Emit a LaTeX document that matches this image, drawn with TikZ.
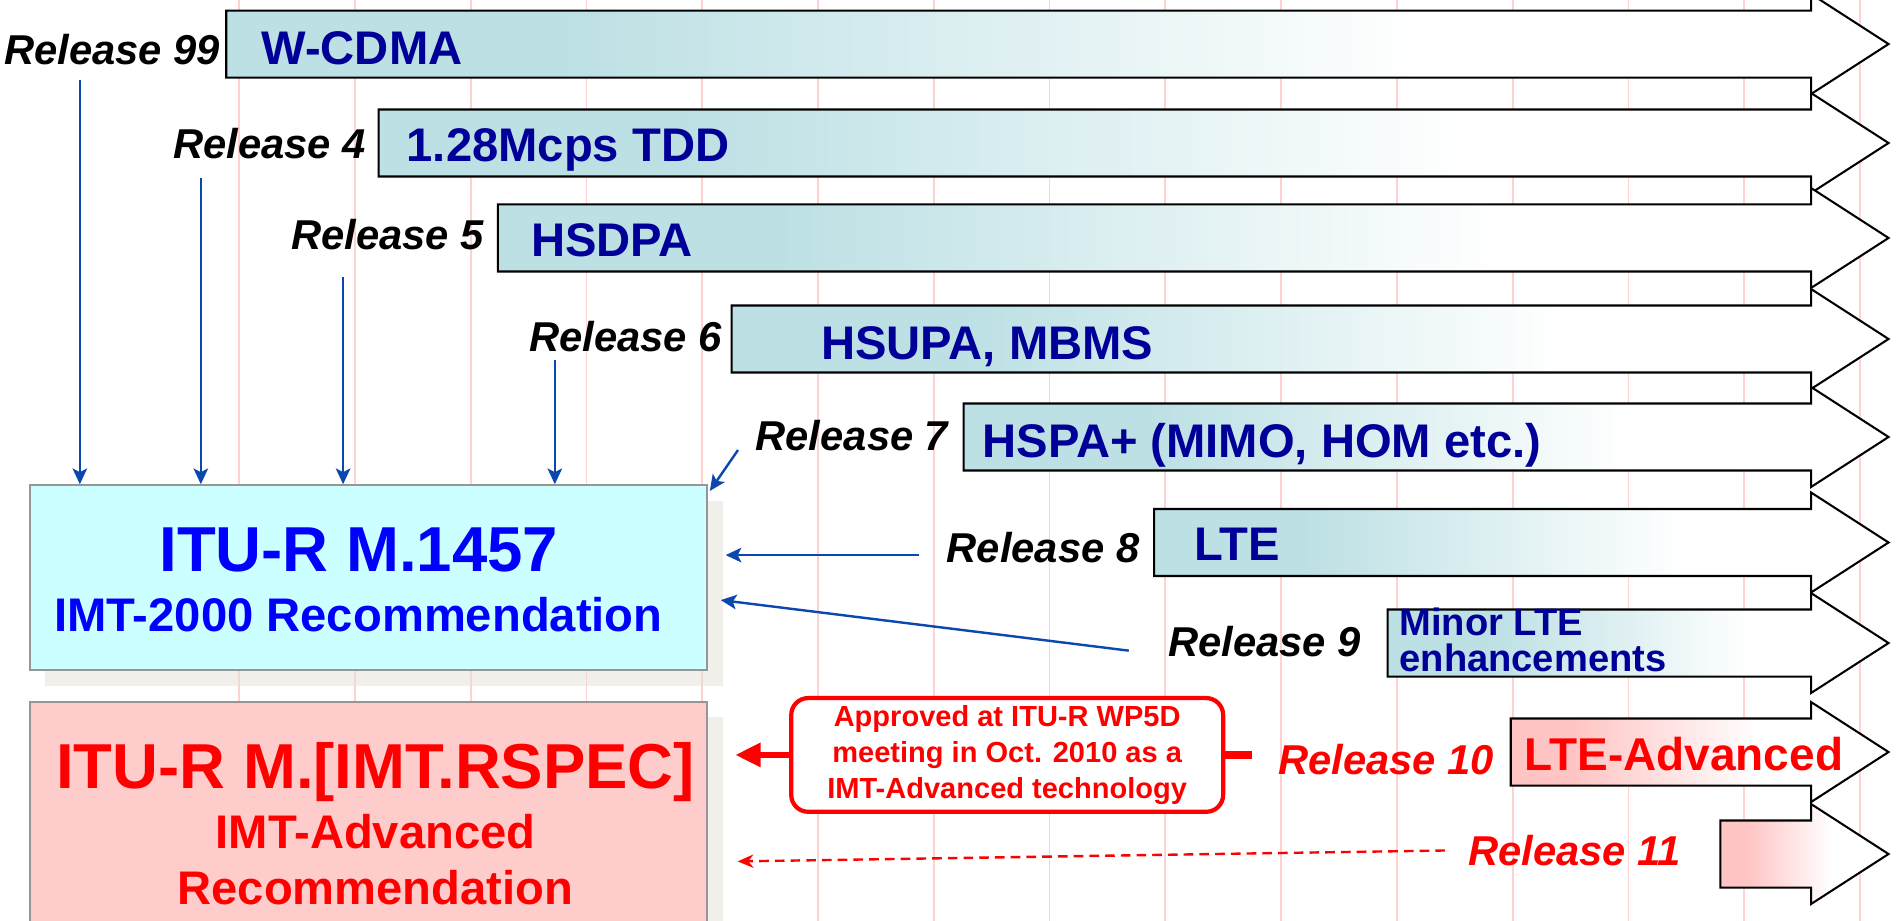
\documentclass[tikz,border=0pt]{standalone}
\usepackage{fontspec}
\setmainfont{Liberation Sans}
\usepackage{xcolor}
\usepackage{tikz}
\usetikzlibrary{arrows.meta,shadows}

\definecolor{relteal}{RGB}{188,224,228}
\definecolor{relpink}{RGB}{255,196,196}
\definecolor{featnavy}{RGB}{0,0,153}
\definecolor{connblue}{RGB}{10,72,176}
\definecolor{itucyan}{RGB}{204,255,255}
\definecolor{rspecpink}{RGB}{255,204,204}
\definecolor{gridpink}{RGB}{255,210,210}
\definecolor{recgray}{RGB}{150,150,150}
\definecolor{shadowbeige}{RGB}{228,224,212}

\pgfdeclarehorizontalshading{tealfade}{100bp}{color(0bp)=(relteal); color(35bp)=(relteal); color(61bp)=(white); color(100bp)=(white)}
\pgfdeclarehorizontalshading{pinkfade}{100bp}{color(0bp)=(relpink); color(33bp)=(relpink); color(58bp)=(white); color(100bp)=(white)}

\begin{document}
\begin{tikzpicture}[x=1pt,y=-1pt,
  rel arrow/.style={draw=black,line width=1.7pt},
  grid line/.style={gridpink,line width=1.5pt},
  rel label/.style={anchor=base east,inner sep=0pt,font=\fontsize{34.5}{40}\selectfont\bfseries\itshape},
  feat label/.style={anchor=base west,inner sep=0pt,text=featnavy,font=\fontsize{39}{45}\selectfont\bfseries},
  rec box/.style={draw=recgray,line width=1.5pt,minimum width=560pt,
    drop shadow={shadow xshift=13pt,shadow yshift=-13pt,fill=shadowbeige,opacity=0.5}},
  rec title/.style={anchor=base,inner sep=0pt,font=\fontsize{52.5}{60}\selectfont\bfseries},
  rec sub/.style={anchor=base,inner sep=0pt,font=\fontsize{39}{45}\selectfont\bfseries},
  link/.style={connblue,line width=2pt,-{Stealth[length=13pt,width=12pt,inset=3pt]}},
  note box/.style={draw=red,line width=3.5pt,rounded corners=14pt,fill=white,text=red,align=center,
    minimum width=357pt,minimum height=94pt,inner sep=0pt,font=\fontsize{24}{29.5}\selectfont\bfseries}]

  \useasboundingbox (0,0) rectangle (1568,761);

  \foreach \k in {0,...,14}
    \draw[grid line] ({197.6+95.7*\k},-10) -- ++(0,790);

  \foreach \xl/\yc/\shd in {187/36.4/tealfade,313/118.2/tealfade,411.5/196.7/tealfade,
      604.7/280.2/tealfade,796.5/361.2/tealfade,954/448.4/tealfade,1147/531.5/tealfade,
      1248.7/621.6/pinkfade,1422/705.9/pinkfade}
    \shadedraw[rel arrow,shading=\shd] (\xl,\yc-27.7) -- (1497,\yc-27.7) -- (1497,\yc-41.3)
      -- (1561,\yc) -- (1497,\yc+41.3) -- (1497,\yc+27.7) -- (\xl,\yc+27.7) -- cycle;

  \node[rec box,fill=itucyan,minimum height=153pt] (itu) at (304.5,477.5) {};
  \node[rec box,fill=rspecpink,minimum height=264pt] (rspec) at (304.5,712) {};

  \node[rec title,text=blue] (ituname) at (296.6,472.5) {ITU-R M.1457};
  \node[rec sub,text=blue] (itusub) at (296.3,522) {IMT-2000 Recommendation};
  \node[rec title,text=red] (rspecname) at (310.5,651.5) {ITU-R M.[IMT.RSPEC]};
  \node[rec sub,text=red] (rspecsub) at (310.5,701) {IMT-Advanced};
  \node[rec sub,text=red] (rspecrec) at (310.3,748) {Recommendation};

  \node[rel label] (r99) at (182,53.7) {Release 99};
  \node[rel label] (r4) at (302.6,130.6) {Release 4};
  \node[rel label] (r5) at (400,206.6) {Release 5};
  \node[rel label] (r6) at (597,290.7) {Release 6};
  \node[rel label] (r7) at (784,372.5) {Release 7};
  \node[rel label] (r8) at (942,465) {Release 8};
  \node[rel label] (r9) at (1125,543) {Release 9};
  \node[rel label,text=red] (r10) at (1235,640) {Release 10};
  \node[rel label,text=red] (r11) at (1389.6,715) {Release 11};

  \node[feat label] (wcdma) at (216,53.7) {W-CDMA};
  \node[feat label] (tdd) at (336,133.6) {1.28Mcps TDD};
  \node[feat label] (hsdpa) at (439,212) {HSDPA};
  \node[feat label] (hsupa) at (678.6,297) {HSUPA, MBMS};
  \node[feat label] (hspa) at (812,378) {HSPA+ (MIMO, HOM etc.)};
  \node[feat label] (lte) at (987,463) {LTE};
  \node[feat label,align=left,font=\fontsize{31.5}{29.5}\selectfont\bfseries] (minor) at (1156.6,555) {Minor LTE\\enhancements};
  \node[feat label,text=red,font=\fontsize{38}{44}\selectfont\bfseries] (ltea) at (1260,637) {LTE-Advanced};

  \node[note box] (appr) at (832.5,624) {Approved at ITU-R WP5D\\meeting in Oct. 2010 as a\\IMT-Advanced technology};

  \coordinate (s99) at (66,66);
  \coordinate (s4) at (166,147.4);
  \coordinate (s5) at (283.6,228.7);
  \coordinate (s6) at (458.6,297.6);
  \coordinate (s7) at (610,372);
  \coordinate (s8) at (760,458.8);
  \coordinate (s9) at (933,537.8);

  \draw[link] (s99) -- (s99 |- itu.north);
  \draw[link] (s4) -- (s4 |- itu.north);
  \draw[link] (s5) -- (s5 |- itu.north);
  \draw[link] (s6) -- (s6 |- itu.north);
  \draw[link] (s7) -- ([shift={(1.5,5.5)}]itu.north east);
  \draw[link,shorten >=14.5pt] (s8) -- (s8 -| itu.east);
  \draw[link] (s9) -- ([shift={(10.5,18.5)}]itu.east);

  \draw[red,line width=5.5pt,-{Triangle[length=21pt,width=19pt]},shorten >=22.5pt] (appr.west) -- (appr.west -| rspec.east);
  \draw[red,line width=6.5pt,shorten <=21pt] (r10.west |- appr.east) -- (appr.east);
  \draw[red,line width=2pt,dash pattern=on 8pt off 5pt,-{Stealth[length=13pt,width=11pt]},shorten <=19pt] (r11.west) -- ([xshift=24.5pt]rspec.east);
\end{tikzpicture}
\end{document}
